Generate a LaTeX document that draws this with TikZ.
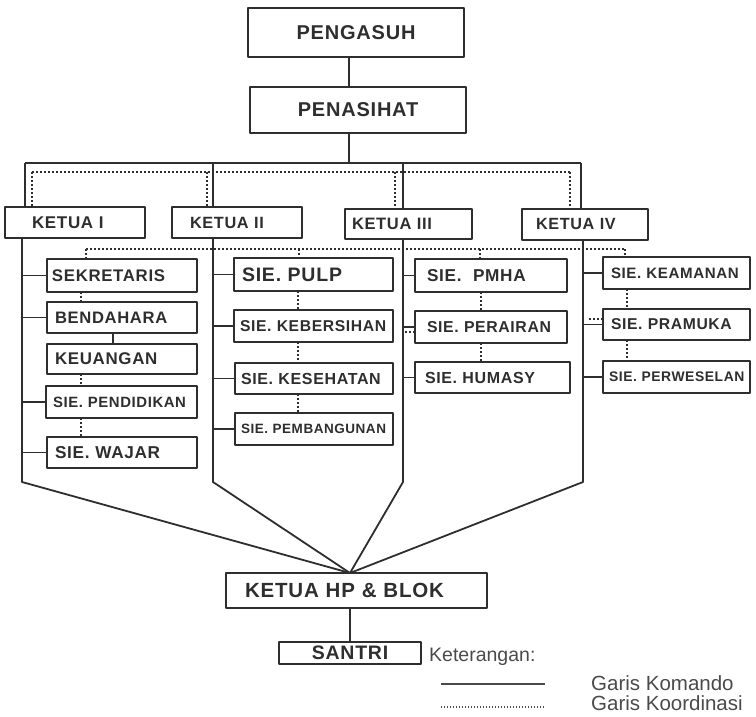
\documentclass[tikz,border=0pt]{standalone}
\usepackage{fontspec}
\setmainfont{Liberation Sans}
\newfontfamily\orgfont[LetterSpace=4]{Liberation Sans}
\definecolor{ink}{HTML}{2E2E2E}
\definecolor{note}{HTML}{4A4A4A}
\newcommand\sz[1]{\fontsize{#1}{#1}\selectfont}
\tikzset{
  orgbox/.style={
    draw=ink, line width=1.8pt, anchor=north west, outer sep=0pt,
    inner ysep=0pt, align=left, text=ink,
    font=\orgfont\bfseries\sz{#1}
  },
  command/.style={draw=ink, line width=1.8pt},
  coord/.style={draw=ink, line width=1.8pt, dash pattern=on 1.8pt off 2.2pt},
  legend/.style={text=note, font=\sz{#1}, inner sep=0pt, anchor=west},
}

\begin{document}
\begin{tikzpicture}[x=1pt,y=-1pt,line join=round]
\useasboundingbox (0,0) rectangle (756,716);
% top
\node[orgbox=20,align=center,inner xsep=4pt,text width=208pt,minimum height=49pt] (pengasuh) at (248,8) {PENGASUH};
\node[orgbox=20,align=center,inner xsep=4pt,text width=208pt,minimum height=46pt] (penasihat) at (250,87) {PENASIHAT};
% ketua
\node[orgbox=17,inner xsep=27pt,text width=86pt,minimum height=31pt] (ketua1) at (5,207) {KETUA I};
\node[orgbox=16.3,inner xsep=18pt,text width=94pt,minimum height=31pt] (ketua2) at (172,207) {KETUA II};
\node[orgbox=16.5,inner xsep=7pt,text width=113pt,minimum height=30pt] (ketua3) at (345,209) {KETUA III};
\node[orgbox=16.2,inner xsep=14pt,text width=98pt,minimum height=31pt] (ketua4) at (522,209) {KETUA IV};
% seksi ketua I
\node[orgbox=16.8,inner xsep=5pt,text width=140pt,minimum height=33pt] (sekretaris) at (47,259) {SEKRETARIS};
\node[orgbox=16.6,inner xsep=8pt,text width=134pt,minimum height=31pt] (bendahara) at (47,302) {BENDAHARA};
\node[orgbox=16.9,inner xsep=8pt,text width=134pt,minimum height=30pt] (keuangan) at (47,344) {KEUANGAN};
\node[orgbox=14.9,inner xsep=7pt,text width=137pt,minimum height=32pt] (pendidikan) at (46,386) {SIE. PENDIDIKAN};
\node[orgbox=17.2,inner xsep=8pt,text width=134pt,minimum height=31pt] (wajar) at (47,437) {SIE. WAJAR};
% seksi ketua II
\node[orgbox=19.5,inner xsep=8pt,text width=143pt,minimum height=33pt] (pulp) at (234,258) {SIE. PULP};
\node[orgbox=15.7,inner xsep=6pt,text width=147pt,minimum height=32pt] (kebersihan) at (234,310) {SIE. KEBERSIHAN};
\node[orgbox=16,inner xsep=6pt,text width=146pt,minimum height=31pt] (kesehatan) at (235,363) {SIE. KESEHATAN};
\node[orgbox=13.5,inner xsep=6pt,text width=146pt,minimum height=32pt] (pembangunan) at (235,413) {SIE. PEMBANGUNAN};
% seksi ketua III
\node[orgbox=17.2,inner xsep=12pt,text width=128pt,minimum height=33pt] (pmha) at (415,259) {SIE.\ \ PMHA};
\node[orgbox=15.8,inner xsep=12pt,text width=128pt,minimum height=32pt] (perairan) at (415,311) {SIE. PERAIRAN};
\node[orgbox=16,inner xsep=10pt,text width=135pt,minimum height=31pt] (humasy) at (415,362) {SIE. HUMASY};
% seksi ketua IV
\node[orgbox=15.1,inner xsep=8pt,text width=131pt,minimum height=32pt] (keamanan) at (603,257) {SIE. KEAMANAN};
\node[orgbox=15.7,inner xsep=8pt,text width=131pt,minimum height=31pt] (pramuka) at (603,309) {SIE. PRAMUKA};
\node[orgbox=13.9,inner xsep=6pt,text width=135pt,minimum height=32pt] (perweselan) at (603,361) {SIE. PERWESELAN};
% bottom
\node[orgbox=20.5,inner xsep=19pt,text width=223pt,minimum height=35pt] (ketuahp) at (226,573) {KETUA HP \& BLOK};
\node[orgbox=19.5,align=center,inner xsep=4pt,text width=134pt,minimum height=22pt] (santri) at (279,642) {SANTRI};

% garis komando
\coordinate (hub) at (349,163);
\draw[command] (hub |- pengasuh.south) -- (hub |- penasihat.north);
\draw[command] (hub |- penasihat.south) -- (hub);
\draw[command] (25,163) -- (581,163);
\foreach \k/\x in {1/25,2/213,3/403,4/581}{
  \coordinate (t\k) at (\x,163);
  \draw[command] (t\k) -- (t\k |- ketua\k.north);
}
\coordinate (hp) at ([xshift=124pt]ketuahp.north west);
\foreach \k/\x in {1/22,2/213,3/403,4/583}{
  \coordinate (c\k) at (\x,482);
  \draw[command] (c\k |- ketua\k.south) -- (c\k) -- (hp);
}
\foreach \b in {sekretaris,bendahara,pendidikan,wajar}
  \draw[command] (\b.west) -- (\b.west -| c1);
\foreach \b in {pulp,kebersihan,kesehatan,pembangunan}
  \draw[command] (\b.west) -- (\b.west -| c2);
\foreach \b in {pmha,perairan,humasy}
  \draw[command] (\b.west) -- (\b.west -| c3);
\foreach \b in {keamanan,pramuka,perweselan}
  \draw[command] (\b.west) -- (\b.west -| c4);
\coordinate (bk) at (113,0);
\draw[command] (bendahara.south -| bk) -- (keuangan.north -| bk);
\draw[command] (santri.north) -- (santri.north |- ketuahp.south);

% garis koordinasi
\foreach \k/\x in {1/32,2/207,3/395,4/570}{
  \coordinate (d\k) at (\x,172);
  \draw[coord] (d\k) -- (d\k |- ketua\k.north);
}
\draw[coord] (d1) -- (d4);
\coordinate (s1) at (86,249);
\coordinate (s2) at (299,249);
\coordinate (s3) at (480,249);
\coordinate (s4) at (625,249);
\draw[coord] (s1) -- (s4);
\draw[coord] (s1) -- (s1 |- sekretaris.north);
\draw[coord] (s2) -- (s2 |- pulp.north);
\draw[coord] (s3) -- (s3 |- pmha.north);
\draw[coord] (s4) -- (s4 |- keamanan.north);
\coordinate (v1) at (81,0);
\coordinate (v2) at (298,0);
\coordinate (v3) at (481,0);
\coordinate (v4) at (627,0);
\foreach \a/\b in {sekretaris/bendahara,keuangan/pendidikan,pendidikan/wajar}
  \draw[coord] (\a.south -| v1) -- (\b.north -| v1);
\foreach \a/\b in {pulp/kebersihan,kebersihan/kesehatan,kesehatan/pembangunan}
  \draw[coord] (\a.south -| v2) -- (\b.north -| v2);
\foreach \a/\b in {pmha/perairan,perairan/humasy}
  \draw[coord] (\a.south -| v3) -- (\b.north -| v3);
\foreach \a/\b in {keamanan/pramuka,pramuka/perweselan}
  \draw[coord] (\a.south -| v4) -- (\b.north -| v4);
\draw[coord] ([yshift=-5pt]perairan.west) -- ++(-12,0);
\draw[coord] ([yshift=5.5pt]pramuka.west) -- ++(-15,0);

% keterangan
\node[legend=19.5] (keterangan) at (429,657) {Keterangan:};
\coordinate (ka) at (441,684);
\coordinate (kb) at (545,684);
\draw[note,line width=1.2pt] (ka) -- (kb);
\node[legend=20.5] (komando) at (591,683) {Garis Komando};
\coordinate (ca) at (441,707);
\coordinate (cb) at (545,707);
\draw[note,line width=1.2pt,dash pattern=on 1.2pt off 1.8pt] (ca) -- (cb);
\node[legend=20.5] (koordinasi) at (591,703) {Garis Koordinasi};
\end{tikzpicture}
\end{document}
